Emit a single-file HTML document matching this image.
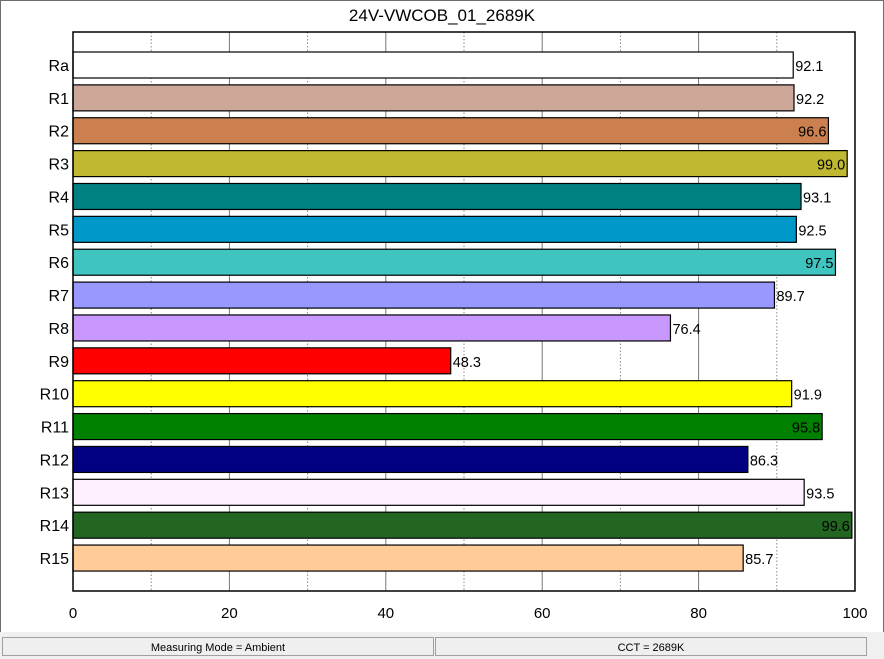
<!DOCTYPE html>
<html><head><style>
body{margin:0;background:#fff;font-family:"Liberation Sans",sans-serif;}
#wrap{position:relative;width:884px;height:659px;overflow:hidden;}
</style></head><body>
<div id="wrap">
<svg id="svg" width="884" height="659" style="position:absolute;left:0;top:0">
<rect x="0.5" y="0.5" width="883" height="658" fill="#fff" stroke="#6e6e6e"/>
<text x="442" y="21" text-anchor="middle" font-size="17" fill="#000">24V-VWCOB_01_2689K</text>
<g id="grid"></g><g id="bars"></g><g id="axis"></g>
<rect x="73" y="32" width="782" height="559" fill="none" stroke="#000" stroke-width="1.5"/>
<rect x="0" y="632" width="884" height="27" fill="#f0f0f0"/>
<rect x="2.5" y="637.5" width="431" height="18" fill="#efefef" stroke="#a0a0a0"/>
<text x="218" y="651" text-anchor="middle" font-size="11">Measuring Mode = Ambient</text>
<rect x="435.5" y="637.5" width="431" height="18" fill="#efefef" stroke="#a0a0a0"/>
<text x="651" y="651" text-anchor="middle" font-size="11">CCT = 2689K</text>
</svg>
</div>
<script>
const categories=["Ra","R1","R2","R3","R4","R5","R6","R7","R8","R9","R10","R11","R12","R13","R14","R15"];
const values=[92.1,92.2,96.6,99.0,93.1,92.5,97.5,89.7,76.4,48.3,91.9,95.8,86.3,93.5,99.6,85.7];
const colors=["#ffffff","#cda898","#cc8050","#c0b830","#008080","#0098c8","#40c4c0","#9898ff","#c898ff","#ff0000","#ffff00","#008000","#000080","#fff0ff","#226622","#ffcc98"];
const xTicks=[0,20,40,60,80,100];
const NS="http://www.w3.org/2000/svg";
const x0=73,x1=855,yTop=52,step=32.87,bh=26;
const xs=v=>x0+(v/100)*(x1-x0);
const ys=i=>yTop+i*step;
const grid=document.getElementById('grid'),bars=document.getElementById('bars'),axis=document.getElementById('axis');
function mk(tag,attrs,parent){const e=document.createElementNS(NS,tag);for(const k in attrs)e.setAttribute(k,attrs[k]);parent.appendChild(e);return e;}
for(let v=10;v<100;v+=10){
 const l=mk('line',{x1:xs(v),x2:xs(v),y1:32,y2:591,stroke:v%20?'#888':'#777','stroke-dasharray':v%20?'1.5,2':'none'},grid);
 
 
}
xTicks.forEach(t=>{
 const tx=mk('text',{x:xs(t),y:618,'text-anchor':'middle','font-size':15},axis);tx.textContent=t;
 
 
});
categories.forEach((c,i)=>{
 const y=ys(i);
 const r=mk('rect',{x:x0,y:y,width:xs(values[i])-x0,height:bh,fill:colors[i],stroke:'#000','stroke-width':1.2},bars);
 
 
 const lb=mk('text',{x:69,y:y+bh/2+6,'text-anchor':'end','font-size':16},axis);lb.textContent=c;
 
 
 const vl=mk('text',{x:xs(values[i])+2,y:y+bh/2+6,'font-size':14.5},axis);vl.textContent=values[i].toFixed(1);
 
 
 if(values[i]>95){vl.setAttribute('text-anchor','end');vl.setAttribute('x',xs(values[i])-2);}
});
</script>
</body></html>
